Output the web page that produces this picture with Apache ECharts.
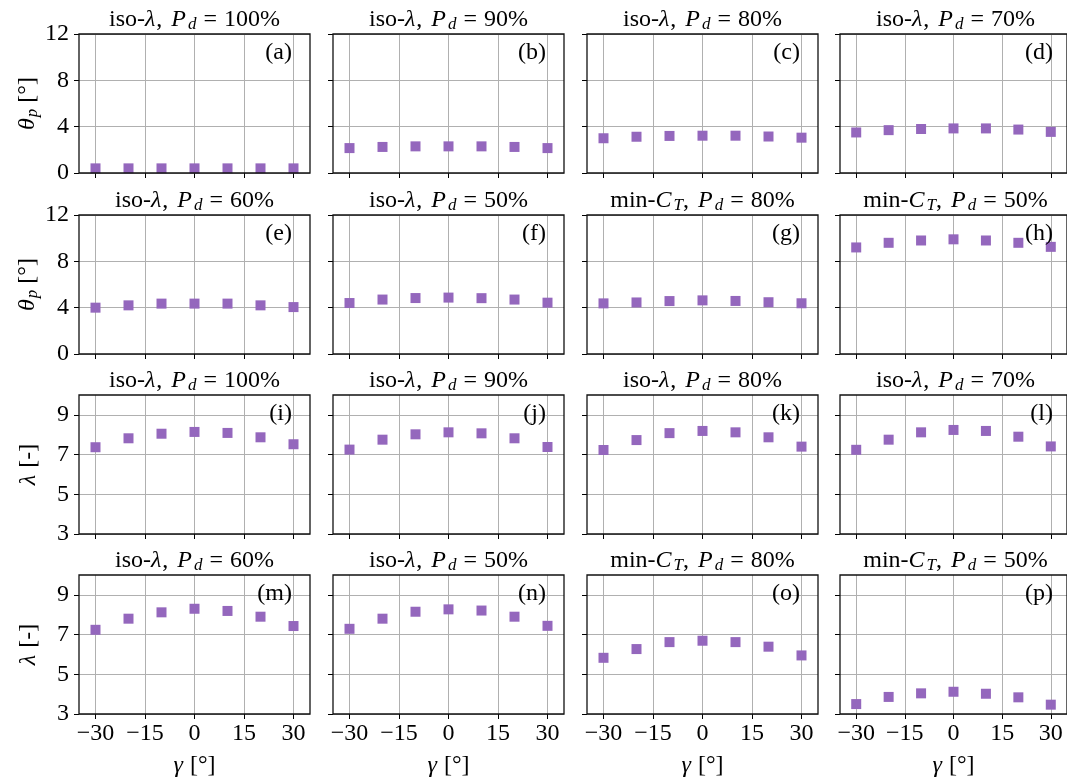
<!DOCTYPE html>
<html><head><meta charset="utf-8">
<script src="https://cdn.jsdelivr.net/npm/echarts@6/dist/echarts.min.js"></script>
<style>html,body{margin:0;padding:0;background:#fff}#c{width:1067px;height:784px}</style>
</head><body><div id="c"></div>
<script>
// ---- data ----
const gammas = [-30, -20, -10, 0, 10, 20, 30];
const xTicks = [-30, -15, 0, 15, 30];
const thetaTicks = [0, 4, 8, 12];
const lambdaTicks = [3, 5, 7, 9];

const thetaA = [0.4, 0.4, 0.4, 0.4, 0.4, 0.4, 0.4];
const thetaB = [2.15, 2.25, 2.3, 2.3, 2.3, 2.25, 2.15];
const thetaC = [3.0, 3.13, 3.2, 3.22, 3.22, 3.15, 3.05];
const thetaD = [3.5, 3.7, 3.8, 3.85, 3.85, 3.75, 3.55];
const thetaE = [4.0, 4.2, 4.35, 4.35, 4.35, 4.2, 4.05];
const thetaF = [4.4, 4.7, 4.83, 4.87, 4.82, 4.7, 4.43];
const thetaG = [4.37, 4.45, 4.57, 4.63, 4.58, 4.47, 4.38];
const thetaH = [9.2, 9.6, 9.8, 9.9, 9.8, 9.6, 9.25];
const lambdaI = [7.37, 7.82, 8.05, 8.14, 8.09, 7.87, 7.52];
const lambdaJ = [7.25, 7.75, 8.02, 8.12, 8.07, 7.82, 7.38];
const lambdaK = [7.23, 7.73, 8.08, 8.19, 8.12, 7.87, 7.4];
const lambdaL = [7.24, 7.75, 8.12, 8.24, 8.19, 7.9, 7.41];
const lambdaM = [7.24, 7.8, 8.12, 8.3, 8.19, 7.9, 7.43];
const lambdaN = [7.29, 7.8, 8.15, 8.27, 8.21, 7.9, 7.44];
const lambdaO = [5.83, 6.27, 6.62, 6.69, 6.62, 6.39, 5.95];
const lambdaP = [3.5, 3.86, 4.04, 4.12, 4.02, 3.84, 3.47];

const panelValues = [thetaA, thetaB, thetaC, thetaD, thetaE, thetaF, thetaG, thetaH,
                     lambdaI, lambdaJ, lambdaK, lambdaL, lambdaM, lambdaN, lambdaO, lambdaP];
const panelLetters = ['a','b','c','d','e','f','g','h','i','j','k','l','m','n','o','p'];
const panelStrategy = ['iso','iso','iso','iso','iso','iso','minCT','minCT',
                       'iso','iso','iso','iso','iso','iso','minCT','minCT'];
const panelPower = [100, 90, 80, 70, 60, 50, 80, 50, 100, 90, 80, 70, 60, 50, 80, 50];

// ---- layout / style ----
const FONT = '"Liberation Serif", "Times New Roman", serif';
const colLeft = [79, 333, 587, 840];
const rowTop = [34, 215, 395, 575];
const W = 231, H = 139;
const PURPLE = '#9467bd';
const GRIDC = '#b0b0b0';
const FS = 24;

const RICH_G = {
  n: {fontFamily: FONT, fontSize: FS, fill: '#000'},
  c: {fontFamily: FONT, fontSize: FS, fill: '#000', padding: [0, 3, 0, 0]},
  i: {fontFamily: FONT, fontSize: FS, fontStyle: 'italic', fill: '#000', padding: [0, 1, 0, 0]},
  s: {fontFamily: FONT, fontSize: 17, fontStyle: 'italic', fill: '#000', padding: [10, 0, 0, 1]},
  e: {fontFamily: FONT, fontSize: FS, fill: '#000', padding: [0, 7, 0, 7]}
};
const RICH_E = {
  n: {fontFamily: FONT, fontSize: FS, color: '#000'},
  i: {fontFamily: FONT, fontSize: FS, fontStyle: 'italic', color: '#000', padding: [0, 1, 0, 0]},
  s: {fontFamily: FONT, fontSize: 17, fontStyle: 'italic', color: '#000', padding: [10, 0, 0, 0]}
};

function titleText(k) {
  const head = panelStrategy[k] === 'iso' ? '{n|iso-}{i|λ}' : '{n|min-}{i|C}{s|T}';
  return head + '{c|, }{i|P}{s|d}{e|=}{n|' + panelPower[k] + '%}';
}
const minus = v => (v < 0 ? '\u2212' + Math.abs(v) : String(v));

const grids = [], xAxes = [], yAxes = [], series = [], graphics = [];
for (let k = 0; k < 16; k++) {
  const r = Math.floor(k / 4), c = k % 4;
  const theta = r < 2;
  const yT = theta ? thetaTicks : lambdaTicks;
  grids.push({left: colLeft[c], top: rowTop[r], width: W, height: H, show: true,
    borderColor: '#111', borderWidth: 1.3, backgroundColor: 'rgba(0,0,0,0)', z: 10});
  xAxes.push({
    gridIndex: k, type: 'value', min: -35, max: 35,
    axisLine: {show: false, onZero: false},
    axisTick: {show: true, length: 5, lineStyle: {color: '#000', width: 1}, customValues: xTicks},
    axisLabel: {show: r === 3, customValues: xTicks, formatter: minus, fontFamily: FONT,
      fontSize: FS, color: '#000', margin: 8},
    splitLine: {show: true, lineStyle: {color: GRIDC, width: 1}},
    name: r === 3 ? '{i|γ}{n| [°]}' : '', nameLocation: 'middle', nameGap: 40,
    nameTextStyle: {rich: RICH_E}
  });
  yAxes.push({
    gridIndex: k, type: 'value', min: theta ? 0 : 3, max: theta ? 12 : 10, interval: theta ? 4 : 2,
    axisLine: {show: false, onZero: false},
    axisTick: {show: true, length: 5, lineStyle: {color: '#000', width: 1}, customValues: yT},
    axisLabel: {show: c === 0, customValues: yT, fontFamily: FONT, fontSize: FS, color: '#000', margin: 10},
    splitLine: {show: true, lineStyle: {color: GRIDC, width: 1}},
    name: c === 0 ? (theta ? '{i|θ}{s|p}{n| [°]}' : '{i|λ}{n| [-]}') : '',
    nameLocation: 'middle', nameGap: 38, nameRotate: 90,
    nameTextStyle: {rich: RICH_E}
  });
  series.push({
    type: 'scatter', xAxisIndex: k, yAxisIndex: k,
    data: gammas.map((g, i) => [g, panelValues[k][i]]),
    symbol: 'rect', symbolSize: 10, itemStyle: {color: PURPLE, opacity: 1},
    silent: true, z: 3
  });
  graphics.push({type: 'text', z: 100, x: colLeft[c] + W / 2, y: rowTop[r] - 1,
    style: {text: titleText(k), align: 'center', verticalAlign: 'bottom', rich: RICH_G, fill: '#000'}});
  graphics.push({type: 'text', z: 100, x: colLeft[c] + W - 18, y: rowTop[r] + 19,
    style: {text: '(' + panelLetters[k] + ')', align: 'right', verticalAlign: 'middle',
      fontFamily: FONT, fontSize: FS, fill: '#000'}});
}

const chart = echarts.init(document.getElementById('c'), null, {renderer: 'canvas'});
chart.setOption({
  animation: false,
  backgroundColor: '#fff',
  grid: grids, xAxis: xAxes, yAxis: yAxes, series: series,
  graphic: {elements: graphics}
});
</script></body></html>
